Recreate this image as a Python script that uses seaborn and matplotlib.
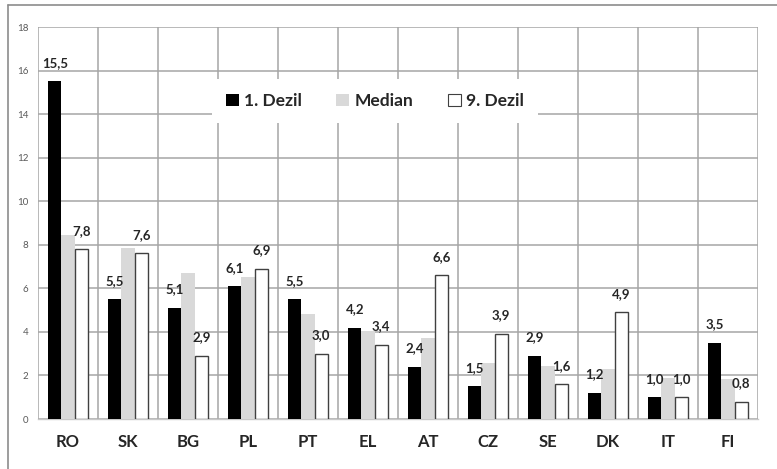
import matplotlib
matplotlib.use("Agg")
import matplotlib.pyplot as plt
from matplotlib.patches import Patch
from matplotlib.lines import Line2D
from matplotlib.ticker import FixedLocator
import numpy as np
import pandas as pd
import seaborn as sns

# Ländercodes und Werte je Reihe
laender = ["RO", "SK", "BG", "PL", "PT", "EL", "AT", "CZ", "SE", "DK", "IT", "FI"]
dezil_1 = [15.5, 5.5, 5.1, 6.1, 5.5, 4.2, 2.4, 1.5, 2.9, 1.2, 1.0, 3.5]
median = [8.45, 7.85, 6.7, 6.5, 4.8, 4.05, 3.7, 2.55, 2.45, 2.3, 1.9, 1.85]
dezil_9 = [7.8, 7.6, 2.9, 6.9, 3.0, 3.4, 6.6, 3.9, 1.6, 4.9, 1.0, 0.8]
reihen = ["1. Dezil", "Median", "9. Dezil"]
y_ticks = [0, 2, 4, 6, 8, 10, 12, 14, 16, 18]

farben = ["#000000", "#d9d9d9", "#ffffff"]
gitter = "#a6a6a6"
text_farbe = "#262626"

df = pd.DataFrame({
    "Land": laender * 3,
    "Wert": dezil_1 + median + dezil_9,
    "Reihe": [r for r, werte in zip(reihen, [dezil_1, median, dezil_9]) for _ in werte],
})

sns.set_theme(style="white")
plt.rcParams["font.family"] = ["Lato", "DejaVu Sans"]

fig = plt.figure(figsize=(7.77, 4.69), dpi=100)
ax = fig.add_axes([38 / 777, 50 / 469, 720 / 777, 392 / 469])

sns.barplot(data=df, x="Land", y="Wert", hue="Reihe", order=laender,
            hue_order=reihen, palette=farben, width=0.66, gap=0,
            saturation=1, legend=False, ax=ax, zorder=3)

# Balkenränder: nur die weißen Balken bekommen eine dunkle Kontur
for cont, reihe in zip(ax.containers, reihen):
    for bar in cont:
        if reihe == "9. Dezil":
            bar.set_edgecolor("#404040")
            bar.set_linewidth(1.0)
        else:
            bar.set_edgecolor("none")
            bar.set_linewidth(0)

# Wertebeschriftungen für 1. und 9. Dezil
for cont, reihe, werte in zip(ax.containers, reihen, [dezil_1, median, dezil_9]):
    if reihe == "Median":
        continue
    ax.bar_label(cont, labels=[f"{v:.1f}".replace(".", ",") for v in werte],
                 padding=9, fontsize=9.5, fontweight="bold", color=text_farbe)

ax.set_xlim(-0.5, len(laender) - 0.5)
ax.set_ylim(0, 18)
ax.yaxis.set_major_locator(FixedLocator(y_ticks))
ax.set_yticklabels([str(t) for t in y_ticks])
ax.xaxis.set_minor_locator(FixedLocator(np.arange(-0.5, len(laender), 1.0)))

ax.grid(True, axis="y", which="major", color=gitter, linewidth=1.1, zorder=0)
ax.grid(True, axis="x", which="minor", color=gitter, linewidth=1.1, zorder=0)
ax.grid(False, axis="x", which="major")
ax.set_axisbelow(True)

for side in ["top", "right", "left"]:
    ax.spines[side].set_visible(False)
ax.spines["bottom"].set_color("#c8c8c8")
ax.spines["bottom"].set_linewidth(1.0)

ax.tick_params(axis="y", length=0, pad=7, labelsize=7, labelcolor="#595959")
ax.tick_params(axis="x", which="major", length=0, pad=11, labelsize=12,
               labelcolor=text_farbe)
ax.tick_params(axis="x", which="minor", length=5, width=1.1, color="#d0d0d0")
for lbl in ax.get_xticklabels():
    lbl.set_fontweight("bold")
ax.set_xlabel("")
ax.set_ylabel("")

# Legende mit weißem Hintergrund über dem Gitter
handles = [Patch(facecolor=farben[0], edgecolor="none"),
           Patch(facecolor=farben[1], edgecolor="none"),
           Patch(facecolor=farben[2], edgecolor="#404040", linewidth=0.8)]
leg = ax.legend(handles, reihen, ncol=3, loc="center",
                bbox_to_anchor=(0.468, 0.811), frameon=True, fancybox=False,
                facecolor="white", edgecolor="none", framealpha=1,
                handlelength=0.75, handleheight=0.75, handletextpad=0.3,
                columnspacing=2.0, borderpad=0.8,
                prop={"weight": "bold", "size": 12.5})
for t in leg.get_texts():
    t.set_color(text_farbe)
leg.set_zorder(5)

# Rahmen des Diagrammbereichs (links und oben)
x0 = 7.5 / 777
y0 = 1 - 5.5 / 469
fig.add_artist(Line2D([x0, x0], [0, y0], transform=fig.transFigure,
                      color="#8c8c8c", linewidth=1.2))
fig.add_artist(Line2D([x0, 1], [y0, y0], transform=fig.transFigure,
                      color="#8c8c8c", linewidth=1.2))

fig.savefig("out.png", dpi=100)
